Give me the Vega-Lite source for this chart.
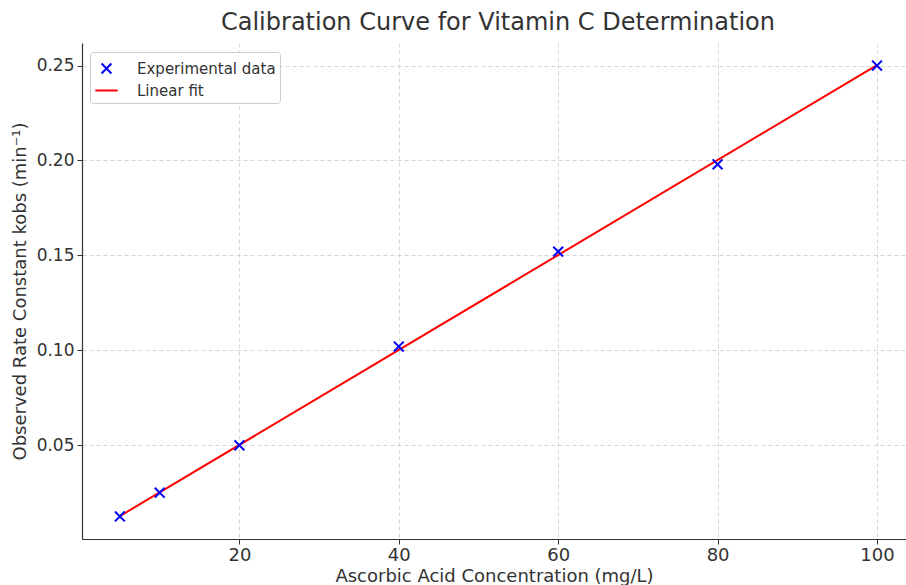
{
  "$schema": "https://vega.github.io/schema/vega-lite/v6.json",
  "width": 824,
  "height": 496,
  "autosize": {"type": "none"},
  "padding": {"left": 82, "top": 43, "right": 0, "bottom": 46},
  "background": "white",
  "title": {
    "text": "Calibration Curve for Vitamin C Determination",
    "font": "DejaVu Sans",
    "fontSize": 24,
    "fontWeight": "normal",
    "color": "#333333",
    "offset": 8,
    "dx": 4
  },
  "config": {
    "view": {"stroke": null},
    "axis": {
      "labelFont": "DejaVu Sans",
      "titleFont": "DejaVu Sans",
      "labelFontSize": 18,
      "titleFontSize": 18,
      "titleFontWeight": "normal",
      "labelColor": "#333333",
      "titleColor": "#333333",
      "domainColor": "#333333",
      "tickColor": "#333333",
      "domainWidth": 1.2,
      "tickSize": 5,
      "gridColor": "#cccccc",
      "gridDash": [4, 3],
      "gridWidth": 0.8
    },
    "legend": {
      "labelFont": "DejaVu Sans",
      "labelFontSize": 15,
      "labelColor": "#333333"
    }
  },
  "datasets": {
    "points": [
      {"conc": 5, "kobs": 0.0125, "series": "Experimental data"},
      {"conc": 10, "kobs": 0.025, "series": "Experimental data"},
      {"conc": 20, "kobs": 0.050, "series": "Experimental data"},
      {"conc": 40, "kobs": 0.102, "series": "Experimental data"},
      {"conc": 60, "kobs": 0.152, "series": "Experimental data"},
      {"conc": 80, "kobs": 0.198, "series": "Experimental data"},
      {"conc": 100, "kobs": 0.250, "series": "Experimental data"}
    ],
    "fit": [
      {"conc": 5, "kobs": 0.0127, "series": "Linear fit"},
      {"conc": 100, "kobs": 0.2502, "series": "Linear fit"}
    ]
  },
  "layer": [
    {
      "data": {"name": "fit"},
      "mark": {"type": "line", "strokeWidth": 2},
      "encoding": {
        "x": {
          "field": "conc", "type": "quantitative",
          "scale": {"domain": [0.25, 103.64], "nice": false, "zero": false},
          "axis": {"title": "Ascorbic Acid Concentration (mg/L)", "values": [20, 40, 60, 80, 100], "labelPadding": 2, "titlePadding": 3, "grid": true}
        },
        "y": {
          "field": "kobs", "type": "quantitative",
          "scale": {"domain": [0.000625, 0.261875], "nice": false, "zero": false},
          "axis": {"title": "Observed Rate Constant kobs (min⁻¹)", "values": [0.05, 0.10, 0.15, 0.20, 0.25], "format": ".2f", "labelFontSize": 17, "labelPadding": 3, "titlePadding": 7, "grid": true}
        },
        "color": {
          "field": "series", "type": "nominal",
          "scale": {"domain": ["Experimental data", "Linear fit"], "range": ["#0000ff", "#ff0000"]},
          "legend": {
            "title": null,
            "orient": "none",
            "legendX": 8,
            "legendY": 9,
            "fillColor": "white",
            "strokeColor": "#cccccc",
            "cornerRadius": 3,
            "padding": 4,
            "symbolSize": 500,
            "symbolStrokeWidth": 2,
            "rowPadding": 0,
            "labelOffset": 18
          }
        }
      }
    },
    {
      "data": {"name": "points"},
      "mark": {"type": "point", "filled": false, "strokeWidth": 2, "size": 500, "opacity": 1},
      "encoding": {
        "x": {"field": "conc", "type": "quantitative"},
        "y": {"field": "kobs", "type": "quantitative"},
        "color": {"field": "series", "type": "nominal"},
        "shape": {
          "field": "series", "type": "nominal",
          "scale": {"domain": ["Experimental data", "Linear fit"], "range": ["M-0.44,-0.44L0.44,0.44M-0.44,0.44L0.44,-0.44", "stroke"]}
        }
      }
    }
  ]
}
